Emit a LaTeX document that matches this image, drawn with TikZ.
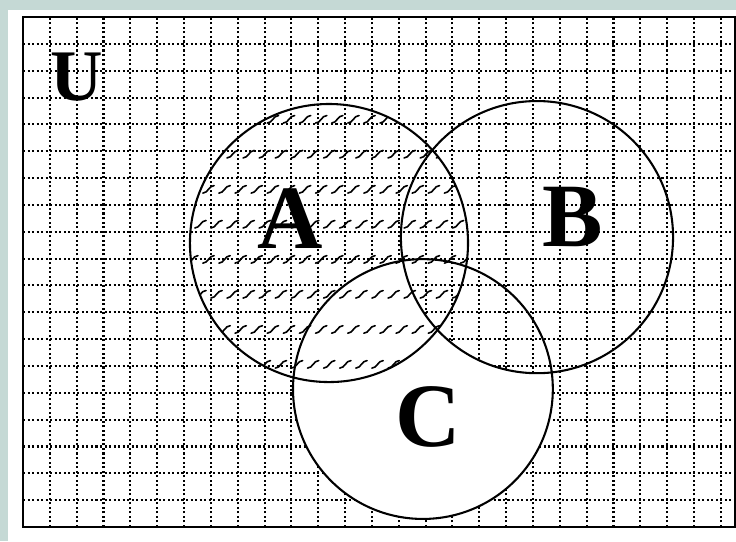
\documentclass[tikz,border=0pt]{standalone}
\usepackage{fontspec}
\setmainfont{Liberation Serif}
\definecolor{slide}{RGB}{197,217,213}

\begin{document}
\begin{tikzpicture}[
        gridline/.style={line width=2.2pt, dash pattern=on 2.2pt off 2.6pt},
        hatchline/.style={line width=1.7pt, line cap=round},
        setline/.style={line width=2.2pt},
        setlabel/.style={inner sep=0pt, font=\fontsize{96}{96}\selectfont\bfseries}
    ]
    % Slide background and margins
    \fill[slide] (-0.857,-0.522) rectangle (26.565,19.635);
    \fill[white] (-0.559,-0.522) rectangle (26.565,19.262);
    \useasboundingbox (-0.857,-0.522) rectangle (26.565,19.635);

    % Centres of the three sets
    \coordinate (cA) at (11.40,10.58);
    \coordinate (cB) at (19.15,10.80);
    \coordinate (cC) at (14.90,5.14);

    % Dotted grid over the universe
    \draw[gridline] (0,0) grid (26.53,19);

    % C outside B is left blank
    \begin{scope}
        \clip (cC) circle (4.84);
        \fill[white, even odd rule] (0,0) rectangle (26.53,19) (cB) circle (5.07);
    \end{scope}

    % Wavy hatching in A
    \begin{scope}
        \clip (cA) circle (5.18);
        \foreach \y [count=\i] in {15.05,13.75,12.44,11.14,9.83,8.53,7.22,5.92} {
            \pgfmathsetmacro\off{mod(\i,2)*0.3}
            \foreach \x in {5.8,6.4,...,16.6}
                \draw[hatchline] ({\x+\off},\y) to[out=0,in=180] ++(0.42,0.28);
        }
    \end{scope}

    % Outlines of A, B, C
    \draw[setline] (cA) circle (5.18);
    \draw[setline] (cB) circle (5.07);
    \draw[setline] (cC) circle (4.84);

    % Frame of U
    \draw[line width=2.6pt] (0,0) rectangle (26.53,19);

    % Labels
    \node[setlabel] (labA) at (9.95,11.48) {A};
    \node[setlabel] (labB) at (20.49,11.55) {B};
    \node[setlabel] (labC) at (15.09,4.10) {C};
    \node[setlabel, font=\fontsize{77}{77}\selectfont\bfseries] (labU) at (2.01,16.77) {U};
\end{tikzpicture}
\end{document}
